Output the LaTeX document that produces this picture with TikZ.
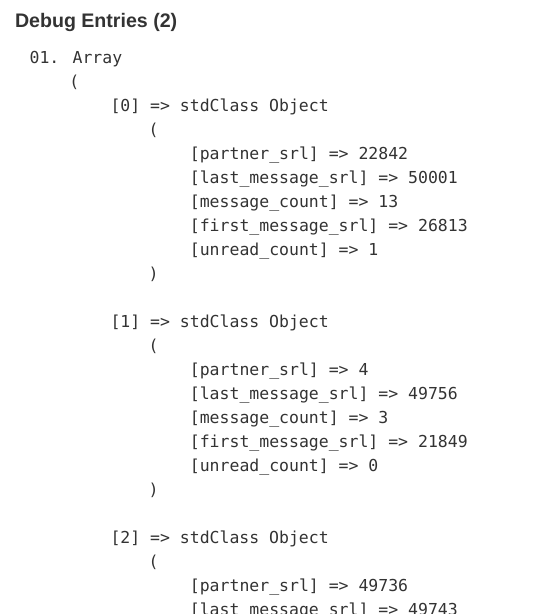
\documentclass[tikz,border=0pt]{standalone}
\usepackage{fontspec}
\setmainfont{Liberation Sans}
\newfontfamily\monof{DejaVu Sans Mono}
\definecolor{txt}{HTML}{333333}
\begin{document}
\begin{tikzpicture}[x=0.75pt,y=-0.75pt,
  mono/.style={anchor=base west, inner sep=0pt, outer sep=0pt, text=txt,
    font=\monof\fontsize{12.36}{14}\selectfont},
  heading/.style={anchor=base west, inner sep=0pt, outer sep=0pt, text=txt,
    font=\bfseries\fontsize{14.7}{17}\selectfont}]
\useasboundingbox[fill=white] (0,0) rectangle (532,614);
\clip (0,0) rectangle (532,614);
\def\cA{29.6}\def\cB{69.3}\def\cC{110.5}\def\cD{148.7}\def\cE{189.9}
\node[heading] (title) at (15,27) {Debug Entries (2)};
\node[mono] (arr) at (\cA,63) {01. Array};
\node[mono] (arrop) at (\cB,87) {(};
% object 0
\node[mono] (o0) at (\cC,111) {[0] => stdClass Object};
\node[mono] (o0op) at (\cD,135) {(};
\node[mono] (o0a) at (\cE,159) {[partner\_srl] => 22842};
\node[mono] (o0b) at (\cE,183) {[last\_message\_srl] => 50001};
\node[mono] (o0c) at (\cE,207) {[message\_count] => 13};
\node[mono] (o0d) at (\cE,231) {[first\_message\_srl] => 26813};
\node[mono] (o0e) at (\cE,255) {[unread\_count] => 1};
\node[mono] (o0cl) at (\cD,279) {)};
% object 1
\node[mono] (o1) at (\cC,327) {[1] => stdClass Object};
\node[mono] (o1op) at (\cD,351) {(};
\node[mono] (o1a) at (\cE,375) {[partner\_srl] => 4};
\node[mono] (o1b) at (\cE,399) {[last\_message\_srl] => 49756};
\node[mono] (o1c) at (\cE,423) {[message\_count] => 3};
\node[mono] (o1d) at (\cE,447) {[first\_message\_srl] => 21849};
\node[mono] (o1e) at (\cE,471) {[unread\_count] => 0};
\node[mono] (o1cl) at (\cD,495) {)};
% object 2
\node[mono] (o2) at (\cC,543) {[2] => stdClass Object};
\node[mono] (o2op) at (\cD,567) {(};
\node[mono] (o2a) at (\cE,591) {[partner\_srl] => 49736};
\node[mono] (o2b) at (\cE,615) {[last\_message\_srl] => 49743};
\end{tikzpicture}
\end{document}
